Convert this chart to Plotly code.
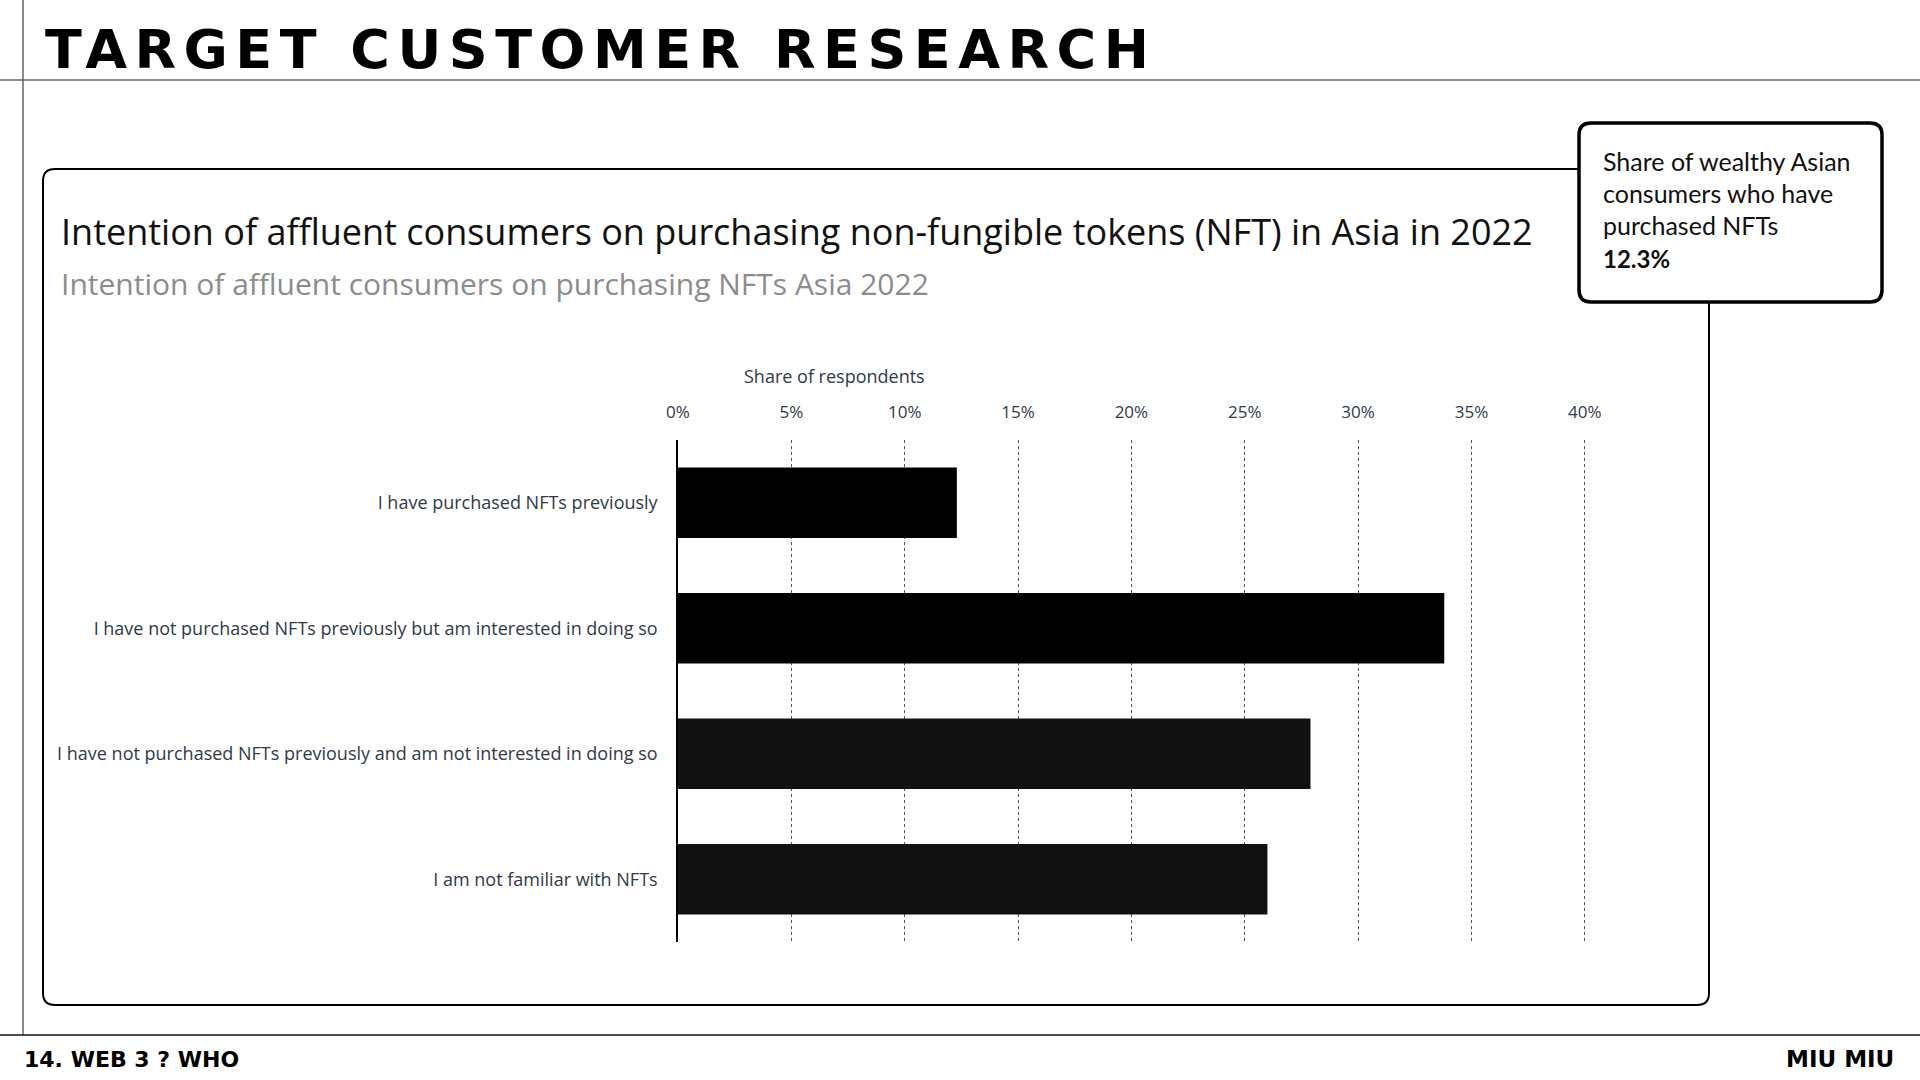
import plotly.graph_objects as go

categories = [
    "I have purchased NFTs previously",
    "I have not purchased NFTs previously but am interested in doing so",
    "I have not purchased NFTs previously and am not interested in doing so",
    "I am not familiar with NFTs",
]
shares = [12.3, 33.8, 27.9, 26.0]
bar_colors = ["#000000", "#000000", "#111111", "#111111"]
tick_vals = [0, 5, 10, 15, 20, 25, 30, 35, 40]
tick_text = [f"{v}%" for v in tick_vals]

W, H = 1920, 1080


def px(x):
    return x / W


def py(y):
    return 1 - y / H


def rrect(x0, y0, x1, y1, r):
    pts = []
    pts.append(f"M {px(x0 + r)} {py(y0)}")
    pts.append(f"L {px(x1 - r)} {py(y0)}")
    pts.append(f"Q {px(x1)} {py(y0)} {px(x1)} {py(y0 + r)}")
    pts.append(f"L {px(x1)} {py(y1 - r)}")
    pts.append(f"Q {px(x1)} {py(y1)} {px(x1 - r)} {py(y1)}")
    pts.append(f"L {px(x0 + r)} {py(y1)}")
    pts.append(f"Q {px(x0)} {py(y1)} {px(x0)} {py(y1 - r)}")
    pts.append(f"L {px(x0)} {py(y0 + r)}")
    pts.append(f"Q {px(x0)} {py(y0)} {px(x0 + r)} {py(y0)}")
    pts.append("Z")
    return " ".join(pts)


fig = go.Figure()
fig.add_trace(go.Bar(
    y=categories,
    x=shares,
    orientation="h",
    marker=dict(color=bar_colors, line=dict(width=0)),
    hoverinfo="x+y",
))

x0_axis = 678
px_per_pct = 22.67
x_max = 40.3
x1_axis = x0_axis + x_max * px_per_pct

tick_font = dict(family="Open Sans", size=17, color="#2f3a48")

fig.update_layout(
    width=W, height=H,
    autosize=False,
    margin=dict(l=0, r=0, t=0, b=0, pad=0, autoexpand=False),
    paper_bgcolor="white",
    plot_bgcolor="white",
    showlegend=False,
    bargap=0.44,
    xaxis=dict(
        domain=[px(x0_axis), px(x1_axis)],
        range=[0, x_max],
        side="top",
        tickvals=tick_vals,
        ticktext=tick_text,
        tickfont=tick_font,
        showgrid=True,
        gridcolor="#555555",
        griddash="dot",
        gridwidth=1,
        zeroline=False,
        showline=False,
        ticks="",
        ticklabelstandoff=18,
        automargin=False,
        fixedrange=True,
    ),
    yaxis=dict(
        domain=[py(942), py(440)],
        autorange="reversed",
        tickfont=dict(family="Open Sans", size=18, color="#2f3a48"),
        showline=True,
        linecolor="#000000",
        linewidth=1.5,
        showgrid=False,
        zeroline=False,
        ticks="",
        ticklabelstandoff=15,
        automargin=False,
        fixedrange=True,
    ),
)

shapes = []
shapes.append(dict(type="line", xref="paper", yref="paper",
                   x0=0, x1=1, y0=py(80), y1=py(80),
                   line=dict(color="#666666", width=1.5)))
shapes.append(dict(type="line", xref="paper", yref="paper",
                   x0=px(23), x1=px(23), y0=py(0), y1=py(1035),
                   line=dict(color="#666666", width=1.5)))
shapes.append(dict(type="line", xref="paper", yref="paper",
                   x0=0, x1=1, y0=py(1035), y1=py(1035),
                   line=dict(color="#111111", width=1.5)))
shapes.append(dict(type="path", xref="paper", yref="paper",
                   path=rrect(43, 169, 1709, 1005, 12),
                   line=dict(color="#000000", width=2),
                   fillcolor="rgba(0,0,0,0)"))
shapes.append(dict(type="path", xref="paper", yref="paper",
                   path=rrect(1579, 123, 1882, 302, 12),
                   line=dict(color="#000000", width=3.5),
                   fillcolor="#ffffff"))
fig.update_layout(shapes=shapes)

ann = []
ann.append(dict(
    text='<span style="letter-spacing:7.5px">TARGET CUSTOMER RESEARCH</span>',
    x=px(43), y=py(49), xref="paper", yref="paper",
    xanchor="left", yanchor="middle", showarrow=False,
    font=dict(family="DejaVu Sans", size=54, color="#000000", weight="bold"),
))
ann.append(dict(
    text="Intention of affluent consumers on purchasing non-fungible tokens (NFT) in Asia in 2022",
    x=px(59), y=py(231), xref="paper", yref="paper",
    xanchor="left", yanchor="middle", showarrow=False,
    font=dict(family="Open Sans", size=36, color="#111111"),
))
ann.append(dict(
    text="Intention of affluent consumers on purchasing NFTs Asia 2022",
    x=px(59), y=py(283), xref="paper", yref="paper",
    xanchor="left", yanchor="middle", showarrow=False,
    font=dict(family="Open Sans", size=30, color="#8c8c8c"),
))
ann.append(dict(
    text="Share of respondents",
    x=px(834), y=py(376), xref="paper", yref="paper",
    xanchor="center", yanchor="middle", showarrow=False,
    font=dict(family="Open Sans", size=18, color="#2f3a48"),
))
callout_lines = ["Share of wealthy Asian", "consumers who have", "purchased NFTs"]
callout_y = [161, 193, 225]
for t, yy in zip(callout_lines, callout_y):
    ann.append(dict(
        text=t, x=px(1601), y=py(yy), xref="paper", yref="paper",
        xanchor="left", yanchor="middle", showarrow=False,
        font=dict(family="Lato", size=25, color="#111111"),
    ))
ann.append(dict(
    text="<b>12.3%</b>", x=px(1601), y=py(258), xref="paper", yref="paper",
    xanchor="left", yanchor="middle", showarrow=False,
    font=dict(family="Lato", size=24, color="#111111"),
))
ann.append(dict(
    text="<b>14. WEB 3 ? WHO</b>",
    x=px(22), y=py(1059), xref="paper", yref="paper",
    xanchor="left", yanchor="middle", showarrow=False,
    font=dict(family="DejaVu Sans", size=22, color="#000000"),
))
ann.append(dict(
    text="<b>MIU MIU</b>",
    x=px(1896), y=py(1059), xref="paper", yref="paper",
    xanchor="right", yanchor="middle", showarrow=False,
    font=dict(family="DejaVu Sans", size=23, color="#000000"),
))
fig.update_layout(annotations=ann)

fig.write_html(
    "out.html",
    post_script="document.body.style.margin='0px';document.body.style.overflow='hidden';",
)
